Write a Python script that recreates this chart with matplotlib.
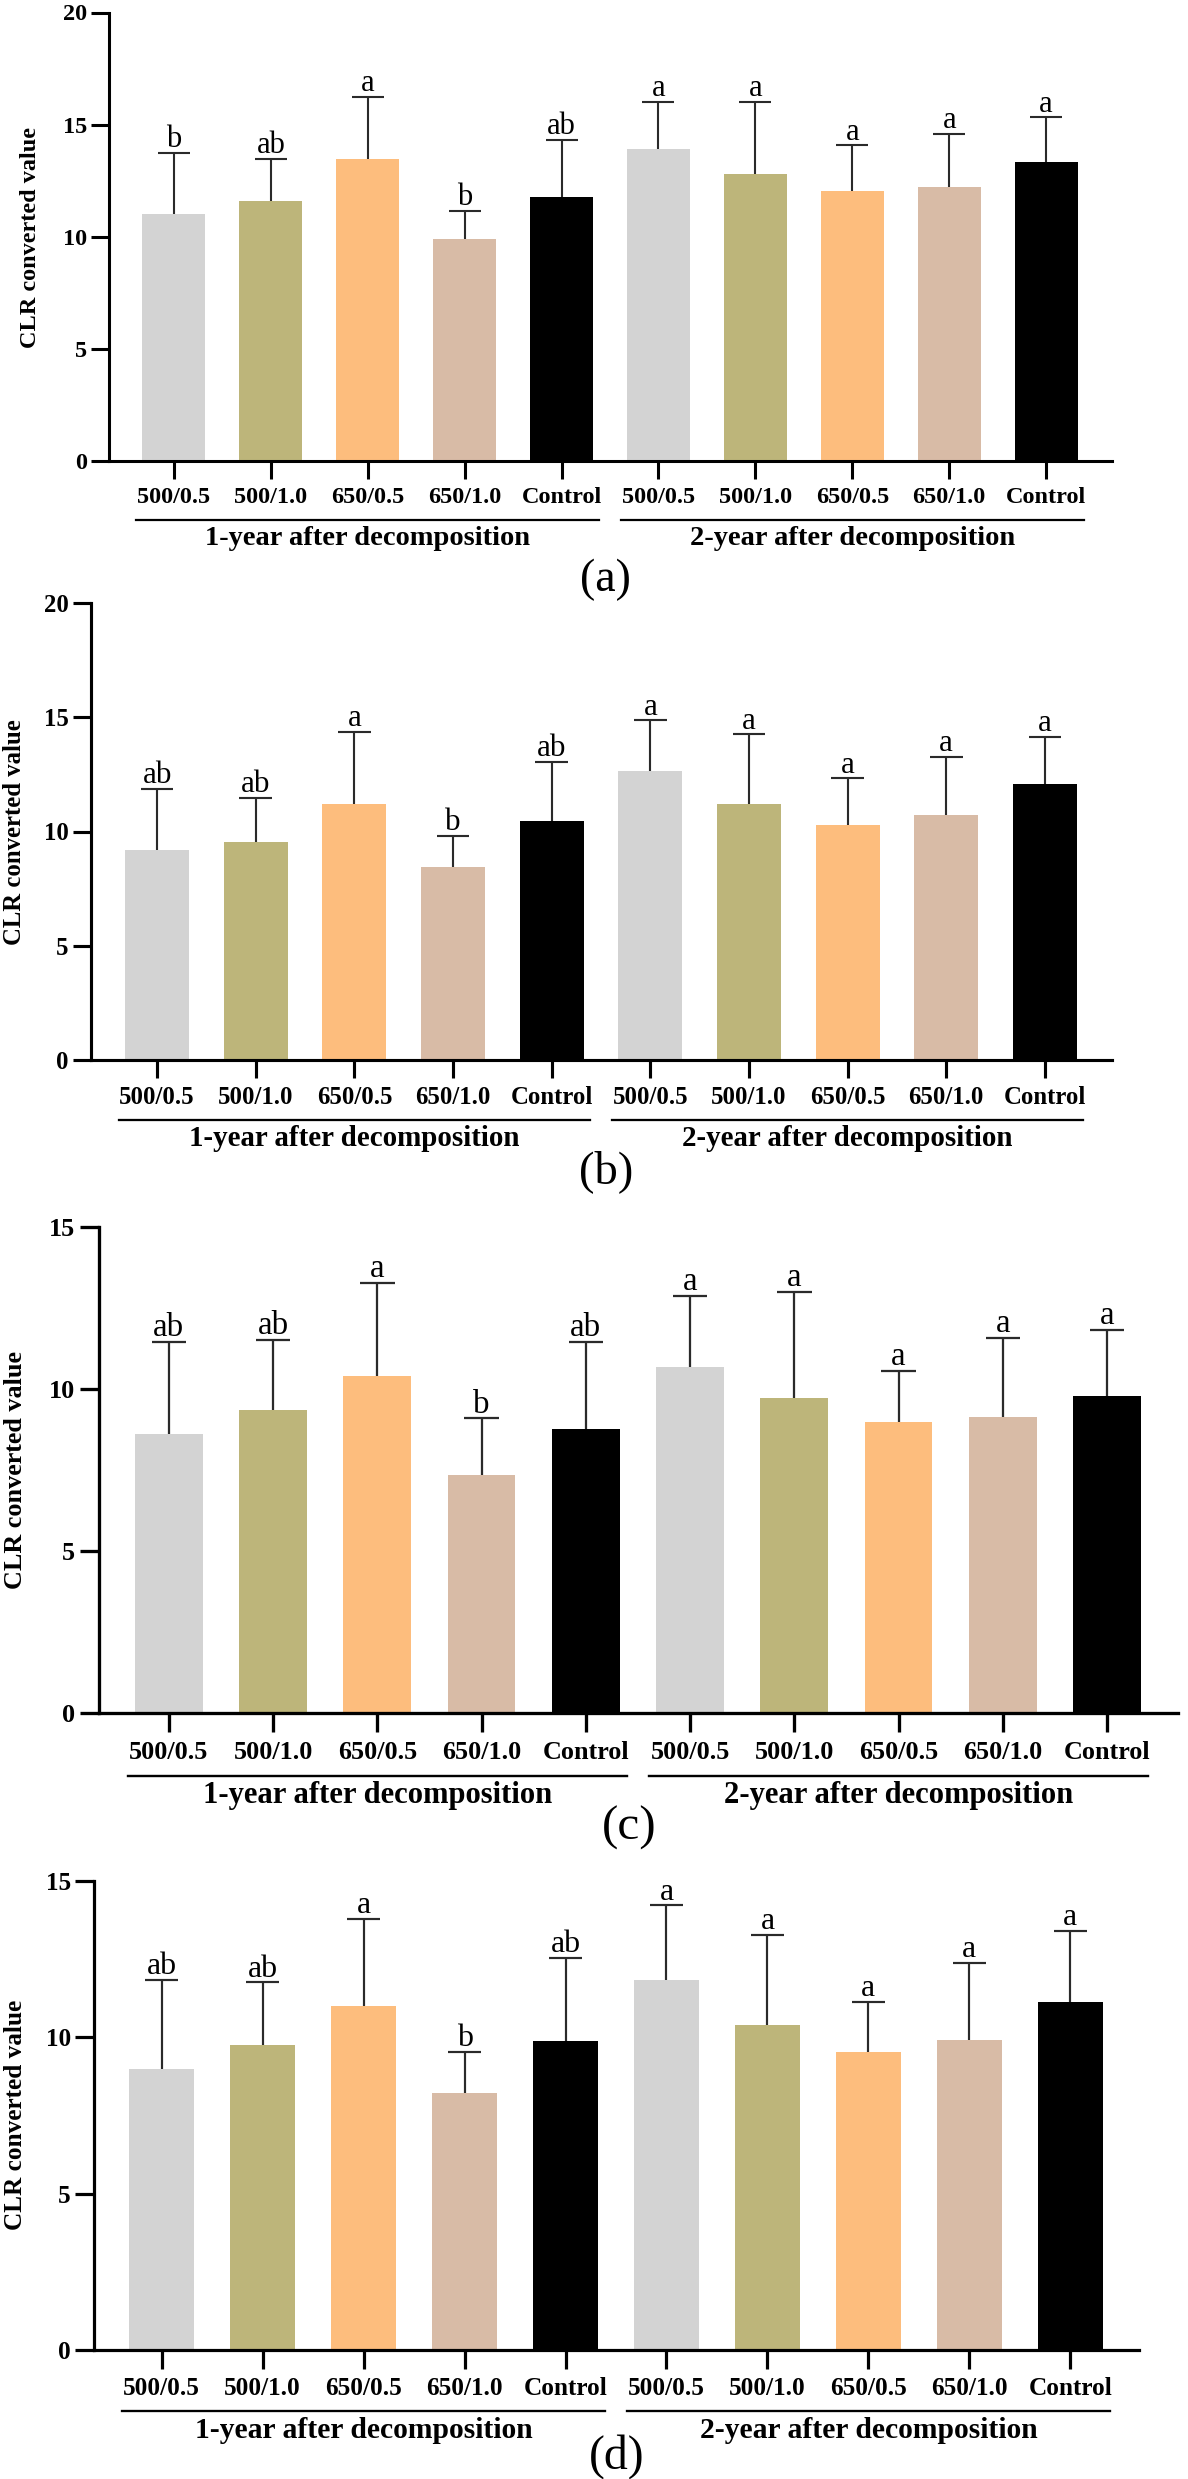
import matplotlib
matplotlib.use("Agg")
import matplotlib.pyplot as plt
from matplotlib.transforms import blended_transform_factory

# ---------------- data ----------------
categories = ["500/0.5", "500/1.0", "650/0.5", "650/1.0", "Control"]
groups = ["1-year after decomposition", "2-year after decomposition"]
bar_colors = ["#D3D3D3", "#BDB57A", "#FDBD7D", "#D8BBA6", "#000000"]

means_a = [11.03, 11.59, 13.47, 9.91, 11.79, 13.90, 12.78, 12.06, 12.24, 13.34]
sd_a = [2.71, 1.89, 2.78, 1.25, 2.54, 2.12, 3.25, 2.01, 2.34, 1.99]
letters_a = ["b", "ab", "a", "b", "ab", "a", "a", "a", "a", "a"]

means_b = [9.19, 9.56, 11.20, 8.44, 10.47, 12.66, 11.20, 10.28, 10.73, 12.08]
sd_b = [2.69, 1.92, 3.16, 1.36, 2.58, 2.20, 3.05, 2.05, 2.54, 2.06]
letters_b = ["ab", "ab", "a", "b", "ab", "a", "a", "a", "a", "a"]

means_c = [8.60, 9.34, 10.41, 7.35, 8.76, 10.67, 9.73, 8.97, 9.13, 9.79]
sd_c = [2.84, 2.18, 2.87, 1.74, 2.68, 2.20, 3.26, 1.58, 2.45, 2.03]
letters_c = ["ab", "ab", "a", "b", "ab", "a", "a", "a", "a", "a"]

means_d = [8.98, 9.77, 10.99, 8.21, 9.89, 11.84, 10.40, 9.52, 9.91, 11.12]
sd_d = [2.85, 1.99, 2.79, 1.33, 2.64, 2.38, 2.88, 1.61, 2.46, 2.29]
letters_d = ["ab", "ab", "a", "b", "ab", "a", "a", "a", "a", "a"]

ylabel = "CLR converted value"
tags = ["(a)", "(b)", "(c)", "(d)"]

# ---------------- layout ----------------
W, H, DPI = 1188, 2479, 100
SERIF = ["Liberation Serif", "DejaVu Serif"]
fig = plt.figure(figsize=(W / DPI, H / DPI), dpi=DPI)
fig.patch.set_facecolor("white")

panels = [
    dict(means=means_a, sd=sd_a, letters=letters_a, ymax=20, box=(109, 1112, 12.5, 461),
         ylab=(31, 237), tag_xy=(605, 580)),
    dict(means=means_b, sd=sd_b, letters=letters_b, ymax=20, box=(91, 1112, 603, 1060),
         ylab=(15, 832), tag_xy=(606, 1172)),
    dict(means=means_c, sd=sd_c, letters=letters_c, ymax=15, box=(99, 1178, 1227, 1713),
         ylab=(16, 1470), tag_xy=(629, 1828)),
    dict(means=means_d, sd=sd_d, letters=letters_d, ymax=15, box=(94, 1139, 1881, 2350),
         ylab=(16, 2115), tag_xy=(617, 2457)),
]

XLIM = (-0.67, 9.68)
ncat = len(categories)
xs = list(range(ncat * len(groups)))

for p, tag in zip(panels, tags):
    left, right, top, bottom = p["box"]
    axw, axh = right - left, bottom - top
    spacing = axw / (XLIM[1] - XLIM[0])
    k = spacing / 96.9  # relative scale of this panel
    ax = fig.add_axes([left / W, 1 - bottom / H, axw / W, axh / H])
    ax.bar(xs, p["means"], width=0.65, color=bar_colors * len(groups), zorder=2)
    tops = [m + s for m, s in zip(p["means"], p["sd"])]
    ax.vlines(xs, p["means"], tops, color="#2a2a2a", lw=1.5 * k, zorder=3)
    ax.hlines(tops, [x - 0.165 for x in xs], [x + 0.165 for x in xs],
              color="#2a2a2a", lw=1.5 * k, zorder=3)
    for x, t, l in zip(xs, tops, p["letters"]):
        ax.annotate(l, (x, t), xytext=(0, 4 * k), textcoords="offset points",
                    ha="center", va="baseline", fontsize=22 * k, family=SERIF)

    ax.set_xlim(*XLIM)
    ax.set_ylim(0, p["ymax"])
    ax.set_yticks(list(range(0, p["ymax"] + 1, 5)))
    ax.set_xticks(xs)
    ax.set_xticklabels(categories * len(groups))
    for lab in ax.get_xticklabels() + ax.get_yticklabels():
        lab.set_family(SERIF)
        lab.set_fontweight("bold")
        lab.set_fontsize(17.5 * k)
    for s in ("top", "right"):
        ax.spines[s].set_visible(False)
    for s in ("left", "bottom"):
        ax.spines[s].set_linewidth(2.2 * k)
    ax.tick_params(axis="both", direction="out", length=13 * k, width=2.2 * k)
    ax.tick_params(axis="x", pad=5.5 * k)
    ax.tick_params(axis="y", pad=3 * k)

    tr = blended_transform_factory(ax.transData, ax.transAxes)
    yline = -59 * k / axh
    ygroup = -77 * k / axh
    for g, gname in enumerate(groups):
        x0 = g * ncat - 0.39
        x1 = g * ncat + ncat - 1 + 0.39
        ax.plot([x0, x1], [yline, yline], transform=tr, clip_on=False,
                color="black", lw=1.6 * k)
        ax.text(g * ncat + (ncat - 1) / 2, ygroup, gname, transform=tr,
                ha="center", va="center", fontsize=20.5 * k, fontweight="bold",
                family=SERIF)

    fig.text(p["ylab"][0] / W, 1 - p["ylab"][1] / H, ylabel, rotation=90,
             ha="center", va="center", fontsize=17.5 * k, fontweight="bold",
             family=SERIF)
    fig.text(p["tag_xy"][0] / W, 1 - p["tag_xy"][1] / H, tag,
             ha="center", va="center", fontsize=33 * k, family=SERIF)

fig.savefig("out.png", dpi=DPI, facecolor="white")
